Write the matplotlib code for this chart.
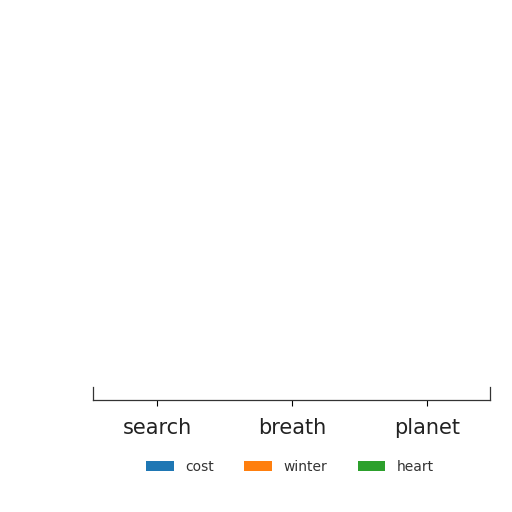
import numpy as np
import matplotlib
matplotlib.use("Agg")
import matplotlib.pyplot as plt

# Categories and series (no bars are visible above the axis)
categories = ["search", "breath", "planet"]
series_names = ["cost", "winter", "heart"]
cost = [0, 0, 0]
winter = [0, 0, 0]
heart = [0, 0, 0]
colors = ["#1f77b4", "#ff7f0e", "#2ca02c"]

fig = plt.figure(figsize=(5.12, 5.12), dpi=100)
ax = fig.add_axes([93 / 512, 112 / 512, 397 / 512, 0.7])

x = np.arange(len(categories))
width = 0.8 / 3
for i, (name, vals) in enumerate(zip(series_names, [cost, winter, heart])):
    ax.bar(x + (i - 1) * width, vals, width, label=name, color=colors[i])

ax.set_xlim(-0.475, 2.47)
ax.set_ylim(0, 1)
ax.set_xticks(x)
ax.set_xticklabels(categories, fontsize=15, color="#222222")
ax.tick_params(axis="x", length=4, width=0.8, pad=9)
ax.set_yticks([])

# only short stubs of the side spines remain
ax.spines["top"].set_visible(False)
ax.spines["left"].set_bounds(0, 0.035)
ax.spines["right"].set_bounds(0, 0.035)
for s in ["left", "right", "bottom"]:
    ax.spines[s].set_color("#333333")
    ax.spines[s].set_linewidth(0.9)

leg = fig.legend(loc="center", bbox_to_anchor=(290 / 512, 1 - 467 / 512), ncol=3,
                 frameon=False, fontsize=10, handlelength=2.0, handleheight=0.7,
                 columnspacing=2.2)
for t in leg.get_texts():
    t.set_color("#333333")

fig.savefig("out.png", dpi=100)
